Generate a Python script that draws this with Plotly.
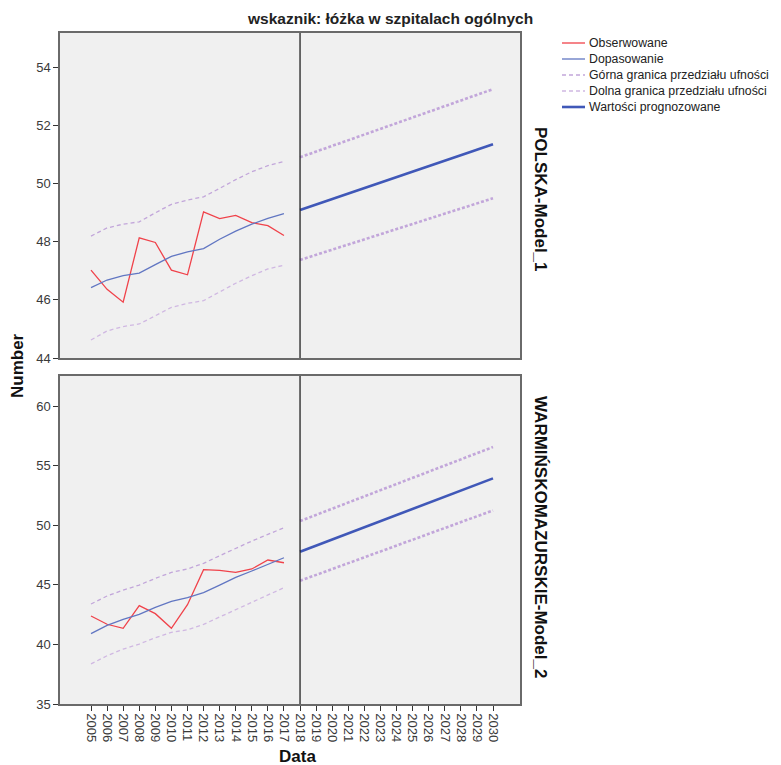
import plotly.graph_objects as go
from plotly.subplots import make_subplots

years_hist = list(range(2005, 2018))
years_fc = [2018, 2030]
tick_years = list(range(2005, 2031))

# POLSKA-Model_1
pl_obs = [47.02, 46.36, 45.92, 48.13, 47.97, 47.02, 46.86, 49.02, 48.79, 48.90, 48.65, 48.55, 48.21]
pl_fit = [46.42, 46.68, 46.83, 46.92, 47.21, 47.49, 47.65, 47.76, 48.08, 48.36, 48.60, 48.80, 48.96]
pl_up = [48.19, 48.47, 48.60, 48.68, 48.99, 49.28, 49.43, 49.54, 49.83, 50.13, 50.40, 50.61, 50.75]
pl_lo = [44.62, 44.93, 45.08, 45.17, 45.45, 45.74, 45.88, 45.97, 46.27, 46.57, 46.83, 47.06, 47.19]
pl_fc = [49.09, 51.35]
pl_fc_up = [50.90, 53.24]
pl_fc_lo = [47.37, 49.49]

# WARMIŃSKOMAZURSKIE-Model_2
wm_obs = [42.38, 41.69, 41.35, 43.25, 42.58, 41.35, 43.33, 46.27, 46.21, 46.05, 46.33, 47.08, 46.85]
wm_fit = [40.90, 41.60, 42.10, 42.52, 43.11, 43.61, 43.92, 44.34, 44.98, 45.63, 46.16, 46.74, 47.27]
wm_up = [43.39, 44.06, 44.56, 44.98, 45.54, 46.04, 46.33, 46.80, 47.44, 48.06, 48.67, 49.23, 49.79]
wm_lo = [38.36, 39.05, 39.61, 40.03, 40.56, 41.01, 41.23, 41.68, 42.30, 42.91, 43.53, 44.14, 44.76]
wm_fc = [47.78, 53.93]
wm_fc_up = [50.35, 56.56]
wm_fc_lo = [45.34, 51.24]

panel_labels = ["POLSKA-Model_1", "WARMIŃSKOMAZURSKIE-Model_2"]
series_names = ["Obserwowane", "Dopasowanie", "Górna granica przedziału ufności",
                "Dolna granica przedziału ufności", "Wartości prognozowane"]
title_text = "wskaznik: łóżka w szpitalach ogólnych"

RED = "#f0424a"
BLUE = "#6176c2"
BLUE_FC = "#4058b8"
PURP = "#c2a6da"
PURP2 = "#d0b8e2"

# page body has an 8px margin, so the figure is 8px smaller and shifted
OFF = 8
W, H = 781 - OFF, 765 - OFF
ML, MT = 60 - OFF, 33 - OFF
PR, PB = 520 - OFF, 704 - OFF
MR, MB = W - PR, H - PB
pw = PR - ML
ph = PB - MT


def px(x):
    return (x - OFF - ML) / pw


def py(y):
    return (PB - (y - OFF)) / ph


top_dom = [py(358), 1.0]
bot_dom = [0.0, py(376)]

fig = make_subplots(rows=2, cols=1, shared_xaxes=False, vertical_spacing=0.02)

font_main = "Liberation Sans, Arial, sans-serif"

styles = [
    dict(color=RED, width=1.3),
    dict(color=BLUE, width=1.3),
    dict(color=PURP, width=1.3, dash="4px,3px"),
    dict(color=PURP2, width=1.3, dash="4px,3px"),
    dict(color=BLUE_FC, width=2.6),
]
fc_band = dict(color=PURP, width=2.6, dash="3px,2px")


def add_panel(row, obs, fit, up, lo, fc, fcu, fcl):
    for vals, i in [(obs, 0), (fit, 1), (up, 2), (lo, 3)]:
        fig.add_trace(go.Scatter(x=years_hist, y=vals, mode="lines", name=series_names[i],
                                 line=styles[i], showlegend=False), row=row, col=1)
    fig.add_trace(go.Scatter(x=years_fc, y=fcu, mode="lines", name=series_names[2],
                             line=fc_band, showlegend=False), row=row, col=1)
    fig.add_trace(go.Scatter(x=years_fc, y=fcl, mode="lines", name=series_names[3],
                             line=fc_band, showlegend=False), row=row, col=1)
    fig.add_trace(go.Scatter(x=years_fc, y=fc, mode="lines", name=series_names[4],
                             line=styles[4], showlegend=False), row=row, col=1)


add_panel(1, pl_obs, pl_fit, pl_up, pl_lo, pl_fc, pl_fc_up, pl_fc_lo)
add_panel(2, wm_obs, wm_fit, wm_up, wm_lo, wm_fc, wm_fc_up, wm_fc_lo)

xr = [2005 - 31 / 16.08, 2030 + 27 / 16.08]
axcommon = dict(showgrid=False, zeroline=False, showline=True, linecolor="#6a6a6a", linewidth=1.5,
                mirror=True, ticks="outside", ticklen=5, tickcolor="#333333",
                tickfont=dict(family=font_main, size=13, color="#3a3a3a"))

fig.update_xaxes(range=xr, tickvals=tick_years, ticktext=[str(y) for y in tick_years], **axcommon)
fig.update_xaxes(row=1, col=1, showticklabels=False, ticks="")
fig.update_xaxes(row=2, col=1, tickangle=90)
fig.update_yaxes(**axcommon)
fig.update_yaxes(row=1, col=1, range=[44, 55.17], tickvals=[44, 46, 48, 50, 52, 54], domain=top_dom)
fig.update_yaxes(row=2, col=1, range=[35, 62.52], tickvals=[35, 40, 45, 50, 55, 60], domain=bot_dom)

for xref, yref in [("x", "y domain"), ("x2", "y2 domain")]:
    fig.add_shape(type="line", xref=xref, yref=yref, x0=2018, x1=2018, y0=0, y1=1,
                  line=dict(color="#222222", width=1.3))

annos = [
    dict(text="<b>" + title_text + "</b>", x=px(390), y=py(18), xanchor="center", yanchor="middle",
         font=dict(family=font_main, size=15.5, color="#222222")),
    dict(text="<b>Number</b>", x=px(17), y=py(366), textangle=-90, xanchor="center", yanchor="middle",
         font=dict(family=font_main, size=17, color="#111111")),
    dict(text="<b>Data</b>", x=px(297), y=py(756), xanchor="center", yanchor="middle",
         font=dict(family=font_main, size=17, color="#111111")),
    dict(text="<b>" + panel_labels[0] + "</b>", x=px(541), y=py(199), textangle=90,
         xanchor="center", yanchor="middle", font=dict(family=font_main, size=17, color="#111111")),
    dict(text="<b>" + panel_labels[1] + "</b>", x=px(541), y=py(537), textangle=90,
         xanchor="center", yanchor="middle", font=dict(family=font_main, size=17, color="#111111")),
]

# legend (drawn with shapes + text so its compact spacing matches)
leg_y = [43, 59, 75, 91, 107]
for i, name in enumerate(series_names):
    st = styles[i]
    fig.add_shape(type="line", xref="paper", yref="paper", x0=px(562), x1=px(585),
                  y0=py(leg_y[i]), y1=py(leg_y[i]),
                  line=dict(color=st["color"], width=st["width"], dash=st.get("dash", "solid")))
    annos.append(dict(text=name, x=px(587), y=py(leg_y[i]), xanchor="left", yanchor="middle",
                      font=dict(family=font_main, size=12.3, color="#222222")))

for a in annos:
    a.update(xref="paper", yref="paper", showarrow=False)

fig.update_layout(
    width=W, height=H,
    margin=dict(l=ML, r=MR, t=MT, b=MB, autoexpand=False),
    paper_bgcolor="white", plot_bgcolor="#f0f0f0",
    showlegend=False,
    annotations=annos,
)

fig.write_html("out.html")
